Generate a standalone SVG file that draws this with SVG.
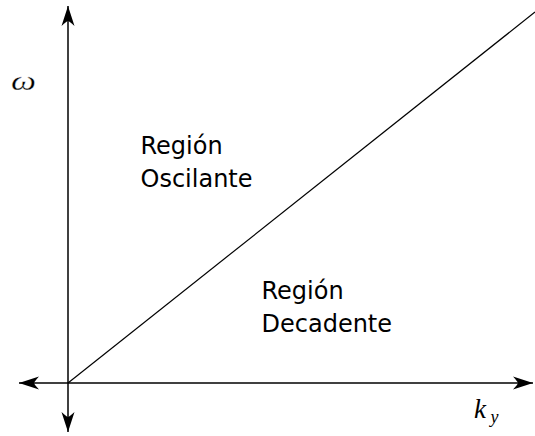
<svg xmlns="http://www.w3.org/2000/svg" width="535" height="436" viewBox="0 0 535 436">
<style>
.ax{stroke:#000;stroke-width:1.5;fill:none}
.dg{stroke:#000;stroke-width:1.2;fill:none}
.lbl{font-family:"DejaVu Sans",sans-serif;font-size:24px;fill:#000}
.math{font-family:"Liberation Serif","DejaVu Serif",serif;font-style:italic;fill:#000}
.thin{stroke:#fff;stroke-width:0.3}
</style>
<defs>
<marker id="arr" viewBox="-21 -7 22 14" markerWidth="22" markerHeight="14" refX="0" refY="0" orient="auto-start-reverse" markerUnits="userSpaceOnUse">
<path d="M0,0 L-20,-6.5 Q-15,-1 -15,0 Q-15,1 -20,6.5 Z" fill="#000"/>
</marker>
</defs>
<rect width="535" height="436" fill="#fff"/>
<g id="connectors">
<line class="ax" x1="68" y1="432" x2="68" y2="6" marker-start="url(#arr)" marker-end="url(#arr)"/>
<line class="ax" x1="19" y1="383" x2="533" y2="383" marker-start="url(#arr)" marker-end="url(#arr)"/>
<line class="dg" x1="68" y1="383" x2="535" y2="12"/>
</g>
<g id="omega"><text class="math thin" x="11" y="89.5" font-size="27" textLength="25" lengthAdjust="spacingAndGlyphs">ω</text></g>
<g id="ky"><text class="math" x="474" y="418" font-size="27">k</text><text class="math" x="490.5" y="422.5" font-size="18">y</text></g>
<g id="oscilante"><text class="lbl" x="140.5" y="154">Región</text><text class="lbl" x="140.5" y="187">Oscilante</text></g>
<g id="decadente"><text class="lbl" x="261.5" y="299">Región</text><text class="lbl" x="261.5" y="332">Decadente</text></g>
</svg>
